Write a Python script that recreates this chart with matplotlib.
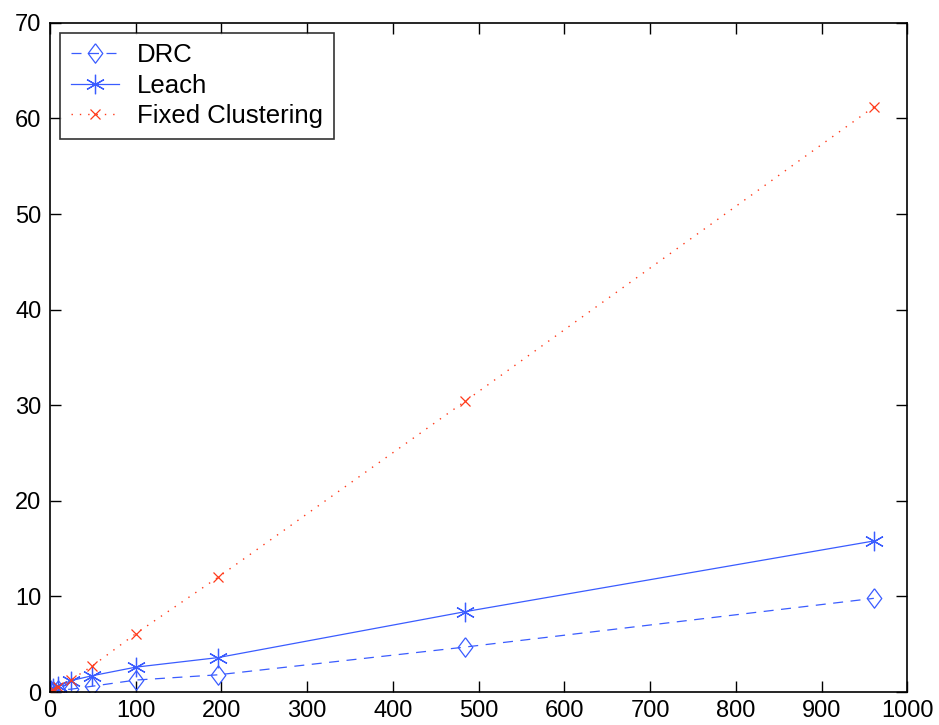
import matplotlib
matplotlib.use("Agg")
import matplotlib.pyplot as plt

plt.rcParams['font.family'] = ['Liberation Sans', 'DejaVu Sans']

# node counts (x) and values for each protocol
x_vals = [1, 4, 9, 25, 49, 100, 196, 484, 961]
drc = [0.05, 0.1, 0.2, 0.3, 0.6, 1.25, 1.8, 4.7, 9.8]
leach = [0.2, 0.4, 0.6, 1.2, 1.7, 2.6, 3.6, 8.4, 15.8]
fixed = [0.06, 0.25, 0.5, 1.3, 2.7, 6.1, 12.0, 30.4, 61.2]

blue = '#3a5cff'
red = '#ff3a1a'

fig = plt.figure(figsize=(9.39, 7.25), dpi=100)
ax = fig.add_axes([0.0532, 0.0455, 0.913, 0.923])

diamond = [(0, 1), (0.75, 0), (0, -1), (-0.75, 0), (0, 1)]

ax.plot(x_vals, drc, color=blue, linestyle=(0, (8, 6)), linewidth=0.9,
        marker=diamond, markersize=14, markerfacecolor='none',
        markeredgecolor=blue, markeredgewidth=0.9, label='DRC')
ax.plot(x_vals, leach, color=blue, linestyle='-', linewidth=0.9,
        marker=(6, 2, 0), markersize=14, markeredgecolor=blue,
        markeredgewidth=0.9, label='Leach')
ax.plot(x_vals, fixed, color=red, linestyle=(0, (1, 5)), linewidth=1.0,
        marker='x', markersize=7, markeredgecolor=red,
        markeredgewidth=0.9, label='Fixed Clustering')

ax.set_xlim(0, 1000)
ax.set_ylim(0, 70)
ax.set_xticks(range(0, 1001, 100))
ax.set_yticks(range(0, 71, 10))
ax.tick_params(direction='in', length=8, width=1, top=True, right=True,
               labelsize=17, pad=6)
for sp in ax.spines.values():
    sp.set_linewidth(1.2)

leg = ax.legend(loc='upper left', fontsize=18.5, frameon=True, fancybox=False,
                edgecolor='black', handlelength=1.9, borderaxespad=0.4,
                labelspacing=0.25, handletextpad=0.7, borderpad=0.4)
leg.get_frame().set_linewidth(1.2)

fig.savefig("out.png", dpi=100)
